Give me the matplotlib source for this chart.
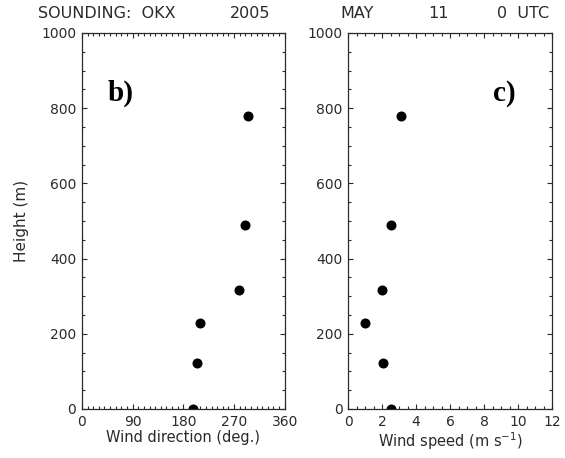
import matplotlib
matplotlib.use("Agg")
import matplotlib.pyplot as plt
from matplotlib.ticker import MultipleLocator

# Sounding profile: OKX, 11 May 2005, 00 UTC
height_m = [0, 122, 230, 316, 489, 780]
wind_dir_deg = [197, 204, 209, 279, 289, 294]
wind_speed_ms = [2.55, 2.05, 1.0, 2.0, 2.5, 3.1]

dir_ticks = [0, 90, 180, 270, 360]
speed_ticks = [0, 2, 4, 6, 8, 10, 12]
height_ticks = [0, 200, 400, 600, 800, 1000]

plt.rcParams["font.family"] = ["DejaVu Sans"]
fig = plt.figure(figsize=(5.65, 4.58), dpi=100)

ax_b = fig.add_axes([0.145, 0.107, 0.359, 0.821])
ax_c = fig.add_axes([0.616, 0.107, 0.361, 0.821])

tick_font = 10
ink = "#2a2a2a"


def style_axis(ax, xticks, xminor):
    ax.set_ylim(0, 1000)
    ax.set_xlim(xticks[0], xticks[-1])
    ax.set_xticks(xticks)
    ax.set_yticks(height_ticks)
    ax.xaxis.set_minor_locator(MultipleLocator(xminor))
    ax.yaxis.set_minor_locator(MultipleLocator(50))
    ax.tick_params(which="both", direction="in", top=True, right=True,
                   labelsize=tick_font, width=0.8, color=ink,
                   labelcolor=ink)
    ax.tick_params(which="major", length=3.5, pad=4)
    ax.tick_params(which="minor", length=2)
    for s in ax.spines.values():
        s.set_linewidth(0.9)
        s.set_color(ink)


ax_b.plot(wind_dir_deg, height_m, "o", color="black", ms=6.2, clip_on=True)
style_axis(ax_b, dir_ticks, 10)
ax_b.set_xlabel("Wind direction (deg.)", fontsize=10.5, color=ink, labelpad=1)
ax_b.set_ylabel("Height (m)", fontsize=11, color=ink, labelpad=9)
ax_b.text(46, 840, "b)", family="Liberation Serif", weight="bold",
          fontsize=21, va="center", ha="left")

ax_c.plot(wind_speed_ms, height_m, "o", color="black", ms=6.2, clip_on=True)
style_axis(ax_c, speed_ticks, 0.5)
ax_c.set_xlabel("Wind speed (m s$^{-1}$)", fontsize=10.5, color=ink, labelpad=1)
ax_c.text(8.5, 840, "c)", family="Liberation Serif", weight="bold",
          fontsize=21, va="center", ha="left")

# Header line across the top of the figure
header_y = 1 - 14 / 458
for x_px, label in [(38, "SOUNDING:  OKX"), (230, "2005"), (340, "MAY"),
                    (428, "11"), (497, "0  UTC")]:
    fig.text(x_px / 565, header_y, label, fontsize=11.5, color=ink,
             ha="left", va="center")

fig.savefig("out.png", dpi=100)
